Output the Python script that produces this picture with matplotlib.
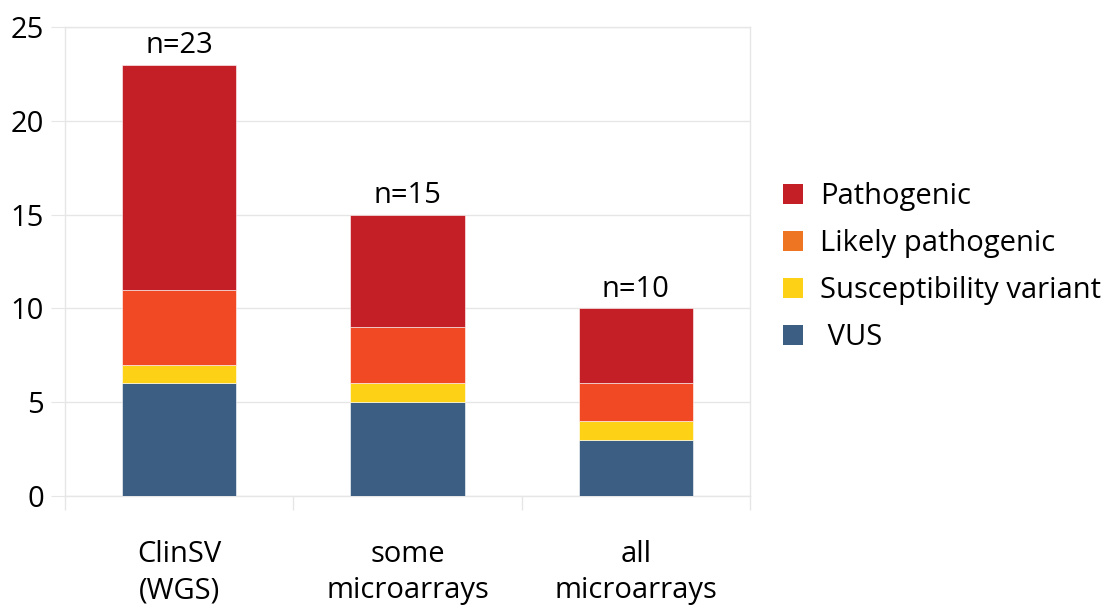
import matplotlib
matplotlib.use("Agg")
import matplotlib.pyplot as plt
from matplotlib.patches import Patch
import numpy as np

plt.rcParams['font.family'] = ['Open Sans', 'DejaVu Sans']

categories = ["ClinSV\n(WGS)", "some\nmicroarrays", "all\nmicroarrays"]
vus = [6, 5, 3]
susceptibility = [1, 1, 1]
likely_pathogenic = [4, 3, 2]
pathogenic = [12, 6, 4]
totals = [23, 15, 10]

c_vus = "#3B5E82"
c_sus = "#FCD116"
c_lp = "#F04923"
c_lp_legend = "#EE7623"
c_path = "#C41E26"
grid_c = "#E6E6E6"

fig = plt.figure(figsize=(11.06, 6.09), dpi=100)
ax = fig.add_axes([65 / 1106, 1 - 496 / 609, (750 - 65) / 1106, (496 - 27) / 609])

x = np.arange(len(categories))
w = 0.5
bottom = np.zeros(len(x))
for vals, col in [(vus, c_vus), (susceptibility, c_sus),
                  (likely_pathogenic, c_lp), (pathogenic, c_path)]:
    ax.bar(x, vals, w, bottom=bottom, color=col, edgecolor="#FFFFFF",
           linewidth=0.4, zorder=3)
    bottom += np.array(vals)

for xi, t in zip(x, totals):
    ax.text(xi, t + 0.25, f"n={t}", ha="center", va="bottom", fontsize=21)

ax.set_xlim(-0.5, 2.5)
ax.set_ylim(0, 25)
ax.set_yticks([0, 5, 10, 15, 20, 25])
ax.yaxis.grid(True, color=grid_c, linewidth=1, zorder=0)
ax.tick_params(axis="y", labelsize=21, length=10, color=grid_c, pad=5)

ax.set_xticks(x)
ax.set_xticklabels(categories, fontsize=21, linespacing=1.3)
ax.tick_params(axis="x", which="major", length=0, pad=32)
ax.set_xticks([-0.5, 0.5, 1.5, 2.5], minor=True)
ax.tick_params(axis="x", which="minor", length=10, color=grid_c, width=1)

for s in ax.spines.values():
    s.set_color(grid_c)
    s.set_linewidth(1)

handles = [Patch(facecolor=c_path, label="Pathogenic"),
           Patch(facecolor=c_lp_legend, label="Likely pathogenic"),
           Patch(facecolor=c_sus, label="Susceptibility variant"),
           Patch(facecolor=c_vus, label=" VUS")]
fig.legend(handles=handles, loc="upper left", bbox_to_anchor=(783 / 1106, 1 - 182 / 609),
           frameon=False, fontsize=21, handlelength=0.68, handleheight=0.68,
           handletextpad=0.6, labelspacing=0.62, borderaxespad=0, borderpad=0)

fig.savefig("out.png", dpi=100)
